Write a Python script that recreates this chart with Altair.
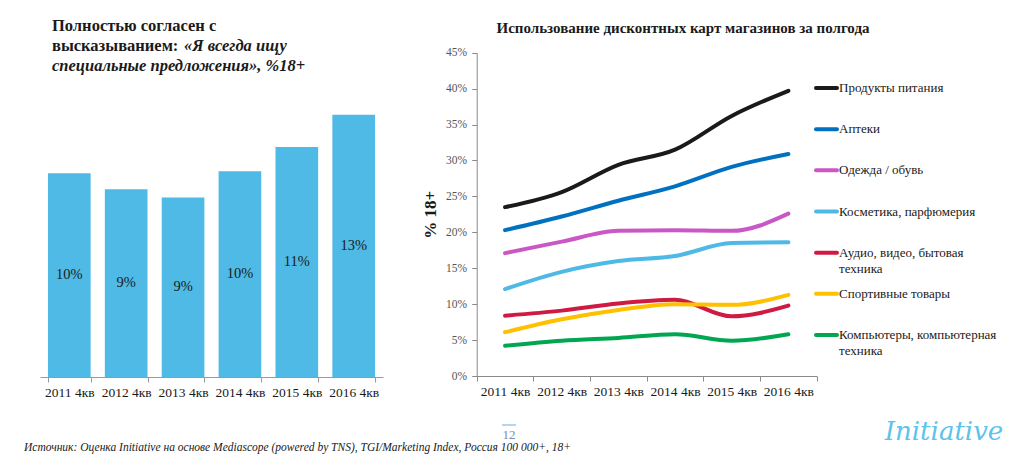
import altair as alt
import pandas as pd

# ---------------- data ----------------
years = ["2011 4кв", "2012 4кв", "2013 4кв", "2014 4кв", "2015 4кв", "2016 4кв"]
agree = [10.1, 9.3, 8.9, 10.2, 11.4, 13.0]

series = ["Продукты питания", "Аптеки", "Одежда / обувь", "Косметика, парфюмерия",
          "Аудио, видео, бытовая техника", "Спортивные товары",
          "Компьютеры, компьютерная техника"]
legend_labels = ["Продукты питания", "Аптеки", "Одежда / обувь", "Косметика, парфюмерия",
                 "Аудио, видео, бытовая\nтехника", "Спортивные товары",
                 "Компьютеры, компьютерная\nтехника"]
food = [23.5, 25.6, 29.4, 31.5, 36.2, 39.7]
pharmacy = [20.3, 22.2, 24.4, 26.4, 29.1, 30.9]
clothes = [17.1, 18.7, 20.2, 20.3, 20.2, 22.6]
cosmetics = [12.1, 14.5, 16.0, 16.7, 18.5, 18.6]
audio = [8.4, 9.1, 10.1, 10.6, 8.3, 9.8]
sport = [6.1, 7.9, 9.2, 10.0, 9.9, 11.3]
computers = [4.2, 4.9, 5.3, 5.8, 4.9, 5.8]
series_values = [food, pharmacy, clothes, cosmetics, audio, sport, computers]
series_colors = ["#1a1a1a", "#0070c0", "#c957c6", "#4fb9e6", "#cf1b43", "#ffc000", "#00a650"]
y_ticks = [0, 5, 10, 15, 20, 25, 30, 35, 40, 45]

SERIF = "Liberation Serif, Times New Roman, serif"

bars_df = pd.DataFrame({"year": years, "value": agree})
lines_df = pd.DataFrame(
    [{"year": y, "series": s, "value": v}
     for s, vals in zip(series, series_values) for y, v in zip(years, vals)]
)
legend_df = pd.DataFrame({"series": series, "label": legend_labels})

color_scale = alt.Scale(domain=series, range=series_colors)

# ---------------- left: bar chart ----------------
bar_x = alt.X(
    "year:N", sort=years, title=None,
    scale=alt.Scale(range=[40, 383], paddingInner=0.25, paddingOuter=0.14),
    axis=alt.Axis(orient="bottom", labelAngle=0, tickBand="extent", domainColor="#9a9a9a",
                  tickColor="#9a9a9a", tickSize=5, labelFont=SERIF, labelFontSize=13.5,
                  labelColor="#1a1a1a", labelPadding=3, grid=False),
)
bar_y_scale = alt.Scale(domain=[0, 14], range=[377, 94.5])

bars = alt.Chart(bars_df).mark_bar(color="#4fbae5").encode(
    x=bar_x,
    y=alt.Y("value:Q", scale=bar_y_scale, axis=None),
)
bar_labels = alt.Chart(bars_df).transform_calculate(
    half="datum.value / 2", lbl="format(datum.value, '.0f') + '%'"
).mark_text(font=SERIF, fontSize=14.5, color="#1a1a1a", baseline="middle").encode(
    x=alt.X("year:N", sort=years),
    y=alt.Y("half:Q", scale=bar_y_scale, axis=None),
    text="lbl:N",
)
bar_layer = alt.layer(bars, bar_labels)

# ---------------- right: line chart ----------------
line_x = alt.X(
    "year:N", sort=years, title=None, bandPosition=0.5,
    scale=alt.Scale(range=[476.7, 816.7], paddingInner=0, paddingOuter=0),
    axis=alt.Axis(orient="bottom", offset=-1, labelAngle=0, tickBand="extent",
                  domainColor="#8a8a8a", tickColor="#8a8a8a", tickSize=5, labelFont=SERIF,
                  labelFontSize=13.5, labelColor="#1a1a1a", labelPadding=3, grid=False),
)
lines = alt.Chart(lines_df).mark_line(strokeWidth=4, interpolate="monotone",
                                       strokeCap="round").encode(
    x=line_x,
    y=alt.Y("value:Q",
            scale=alt.Scale(domain=[0, 45], range=[376, 52.7]),
            axis=alt.Axis(orient="left", offset=-476.7, values=y_ticks,
                          labelExpr="datum.value + '%'", title="% 18+",
                          titleFont=SERIF, titleFontSize=17, titleFontWeight="bold",
                          titleColor="#1a1a1a", titlePadding=6, labelFont=SERIF,
                          labelFontSize=11.5, labelColor="#555555", labelPadding=5,
                          domainColor="#8a8a8a", tickColor="#8a8a8a", tickSize=5,
                          grid=False)),
    color=alt.Color("series:N", scale=color_scale, legend=None),
    detail="series:N",
)

# ---------------- legend (drawn from data) ----------------
legend_y = alt.Y("series:N", sort=series, axis=None,
                 scale=alt.Scale(type="point", range=[88, 335], padding=0))
legend_rules = alt.Chart(legend_df).mark_rule(strokeWidth=4, strokeCap="round").encode(
    x=alt.value(816), x2=alt.value(837), y=legend_y,
    color=alt.Color("series:N", scale=color_scale, legend=None),
)
legend_text = alt.Chart(legend_df).mark_text(
    align="left", baseline="alphabetic", dy=4, lineBreak="\n", lineHeight=16,
    font=SERIF, fontSize=13, color="#1a1a1a"
).encode(x=alt.value(839), y=legend_y, text="label:N")
legend_layer = alt.layer(legend_rules, legend_text)


# ---------------- annotations ----------------
def note(text, x, y, **style):
    return alt.Chart(pd.DataFrame({"t": [text]})).mark_text(**style).encode(
        text="t:N", x=alt.value(x), y=alt.value(y))


title_style = dict(font=SERIF, fontSize=16.5, fontWeight="bold", color="#1a1a1a",
                   align="left", baseline="alphabetic")
notes = [
    note("Полностью согласен с", 52, 30.7, **title_style),
    note("высказыванием:", 52, 50.7, **title_style),
    note("«Я всегда ищу", 184, 50.7, fontStyle="italic", **title_style),
    note("специальные предложения», %18+", 52, 70.7, fontStyle="italic", **title_style),
    note("Использование дисконтных карт магазинов за полгода", 683, 33.3,
         font=SERIF, fontSize=15, fontWeight="bold", color="#1a1a1a",
         align="center", baseline="alphabetic"),
    note("Источник: Оценка Initiative на основе Mediascope (powered by TNS), "
         "TGI/Marketing Index, Россия 100 000+, 18+", 24, 451,
         font=SERIF, fontSize=11.5, fontStyle="italic", color="#1a1a1a",
         align="left", baseline="alphabetic"),
    note("12", 509, 438.5, font=SERIF, fontSize=13, color="#7f8c9e",
         align="center", baseline="alphabetic"),
    note("Initiative", 944, 440, font="DejaVu Serif", fontSize=26, fontStyle="italic",
         color="#5cc3ec", align="center", baseline="alphabetic"),
]
page_line = alt.Chart(pd.DataFrame({"t": [0]})).mark_rule(
    color="#6fa8dc", strokeWidth=1).encode(
    x=alt.value(502), x2=alt.value(516), y=alt.value(425))

chart = alt.layer(bar_layer, lines, legend_layer, page_line, *notes).resolve_scale(
    x="independent", y="independent"
).properties(
    width=1021, height=377,
    autosize=alt.AutoSizeParams(type="none"),
    padding={"left": 0, "top": 0, "right": 0, "bottom": 87},
    background="white",
).configure_view(stroke=None)

chart.save("out.html", embed_options={"renderer": "svg", "actions": False})
